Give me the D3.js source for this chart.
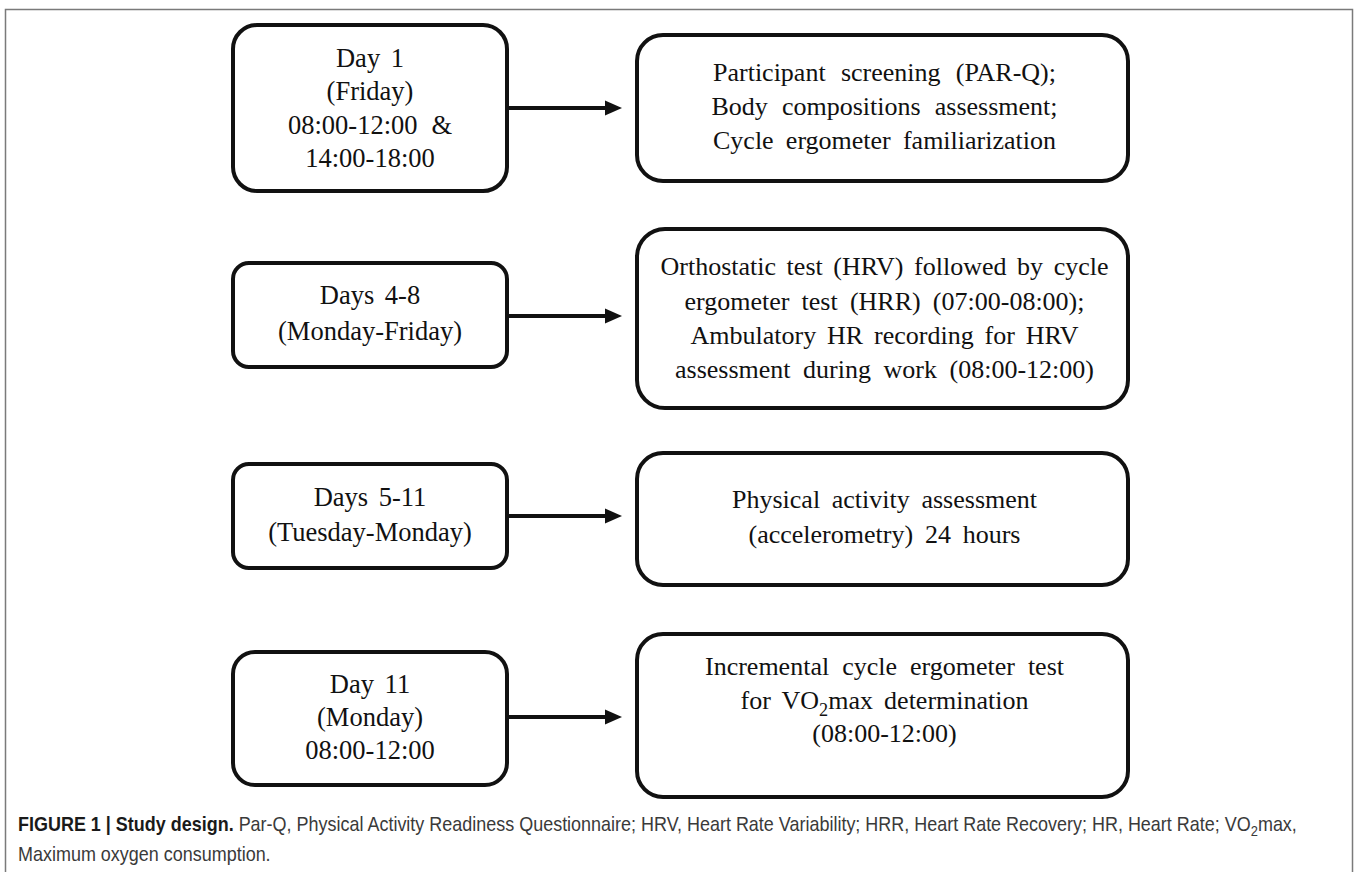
<!DOCTYPE html>
<html><head><meta charset="utf-8">
<script src="https://cdn.jsdelivr.net/npm/d3@7"></script>
<style>body{margin:0;background:#fff}svg{display:block}</style>
</head><body><svg id="c" width="1358" height="872"></svg>
<script>
// ---------- content ----------
const stepWhen = [
  ["Day 1", "(Friday)", "08:00-12:00 &", "14:00-18:00"],
  ["Days 4-8", "(Monday-Friday)"],
  ["Days 5-11", "(Tuesday-Monday)"],
  ["Day 11", "(Monday)", "08:00-12:00"]
];
const stepWhat = [
  ["Participant screening (PAR-Q);", "Body compositions assessment;", "Cycle ergometer familiarization"],
  ["Orthostatic test (HRV) followed by cycle", "ergometer test (HRR) (07:00-08:00);", "Ambulatory HR recording for HRV", "assessment during work (08:00-12:00)"],
  ["Physical activity assessment", "(accelerometry) 24 hours"],
  ["Incremental cycle ergometer test", "for VO_2max determination", "(08:00-12:00)"]
];
const captionBold = "FIGURE 1 | Study design.";
const captionLine1 = " Par-Q, Physical Activity Readiness Questionnaire; HRV, Heart Rate Variability; HRR, Heart Rate Recovery; HR, Heart Rate; VO_2max,";
const captionLine2 = "Maximum oxygen consumption.";

// ---------- layout ----------
const svg = d3.select("#c");
const leftX = [233, 507], rightX = [637, 1128];
const leftBox = [
  {y0: 25, y1: 191, r: 24, lines: [58, 91, 125, 158], widths: [0, 0, 168, 0]},
  {y0: 263, y1: 367, r: 16, lines: [295, 331], widths: [0, 0]},
  {y0: 464, y1: 568, r: 16, lines: [497, 532], widths: [0, 0]},
  {y0: 652, y1: 785, r: 22, lines: [684, 717, 750], widths: [0, 0, 0]}
];
const rightBox = [
  {y0: 35, y1: 181, r: 26, lines: [72, 106, 140], widths: [343, 346, 343]},
  {y0: 229, y1: 408, r: 28, lines: [266, 301, 335, 369], widths: [448, 400, 388, 419]},
  {y0: 453, y1: 585, r: 26, lines: [499, 534], widths: [305, 272]},
  {y0: 634, y1: 797, r: 26, lines: [666, 700, 733], widths: [359, 288, 147]}
];
const arrowY = [108, 316, 516, 717];

// outer frame
svg.append("rect").attr("x", 5.5).attr("y", 9.5).attr("width", 1347).attr("height", 870)
  .attr("fill", "none").attr("stroke", "#7a7a7a").attr("stroke-width", 1.5);

const ink = "#111";
const serif = "'Liberation Serif','Times New Roman',serif";

function addRich(textSel, str, subShift) {
  const parts = str.split("_");
  parts.forEach((p, i) => {
    if (i === 0) { textSel.append("tspan").text(p); return; }
    textSel.append("tspan").attr("dy", subShift).attr("font-size", "0.7em").text(p[0]);
    textSel.append("tspan").attr("dy", -subShift).text(p.slice(1));
  });
}

function fitWords(t, ln, target) {
  if (!target) return;
  const nat = t.node().getComputedTextLength();
  const spaces = (ln.match(/ /g) || []).length;
  if (target > nat && spaces > 0) t.attr("word-spacing", (target - nat) / spaces);
  else if (target < nat) t.attr("textLength", target).attr("lengthAdjust", "spacingAndGlyphs");
}

function drawBox(b, x0, x1) {
  svg.append("rect").attr("x", x0).attr("y", b.y0).attr("width", x1 - x0).attr("height", b.y1 - b.y0)
    .attr("rx", b.r).attr("ry", b.r).attr("fill", "#fff").attr("stroke", ink).attr("stroke-width", 4);
}

// left boxes
stepWhen.forEach((lines, i) => {
  const b = leftBox[i];
  drawBox(b, leftX[0], leftX[1]);
  const cx = (leftX[0] + leftX[1]) / 2;
  lines.forEach((ln, j) => {
    const t = svg.append("text").attr("x", cx).attr("y", b.lines[j]).attr("dy", "0.35em")
      .attr("text-anchor", "middle").attr("font-family", serif).attr("font-size", 26.5)
      .attr("fill", ink).attr("word-spacing", 4).text(ln);
    fitWords(t, ln, b.widths[j]);
  });
});

// right boxes
stepWhat.forEach((lines, i) => {
  const b = rightBox[i];
  drawBox(b, rightX[0], rightX[1]);
  const cx = (rightX[0] + rightX[1]) / 2 + 2;
  lines.forEach((ln, j) => {
    const t = svg.append("text").attr("x", cx).attr("y", b.lines[j]).attr("dy", "0.35em")
      .attr("text-anchor", "middle").attr("font-family", serif).attr("font-size", 26)
      .attr("fill", ink);
    addRich(t, ln, 7);
    fitWords(t, ln, b.widths[j]);
  });
});

// arrows
arrowY.forEach(y => {
  svg.append("line").attr("x1", leftX[1]).attr("x2", 609).attr("y1", y).attr("y2", y)
    .attr("stroke", ink).attr("stroke-width", 4);
  svg.append("path").attr("d", d3.line()([[605, y - 7.5], [622, y], [605, y + 7.5]]) + "Z")
    .attr("fill", ink);
});

// caption (condensed sans: natural font squeezed horizontally to the measured line width)
const capFont = "'Liberation Sans Narrow','Liberation Sans',Arial,sans-serif";
const capSize = 20;
const cap1 = svg.append("g");
const c1 = cap1.append("text").attr("font-family", capFont)
  .attr("font-size", capSize).attr("fill", "#3a3a3a");
c1.append("tspan").attr("font-weight", "bold").attr("fill", "#1a1a1a").text(captionBold);
(function () {
  const parts = captionLine1.split("_");
  c1.append("tspan").text(parts[0]);
  c1.append("tspan").attr("dy", 4.5).attr("font-size", capSize * 0.72).text(parts[1][0]);
  c1.append("tspan").attr("dy", -4.5).text(parts[1].slice(1));
})();
const nat1 = c1.node().getComputedTextLength();
const k = (1298 - 18) / nat1;
cap1.attr("transform", `translate(18,831) scale(${k},1)`);
const cap2 = svg.append("g").attr("transform", `translate(18,861) scale(${k},1)`);
cap2.append("text").attr("font-family", capFont).attr("font-size", capSize).attr("fill", "#3a3a3a").text(captionLine2);
</script></body></html>
